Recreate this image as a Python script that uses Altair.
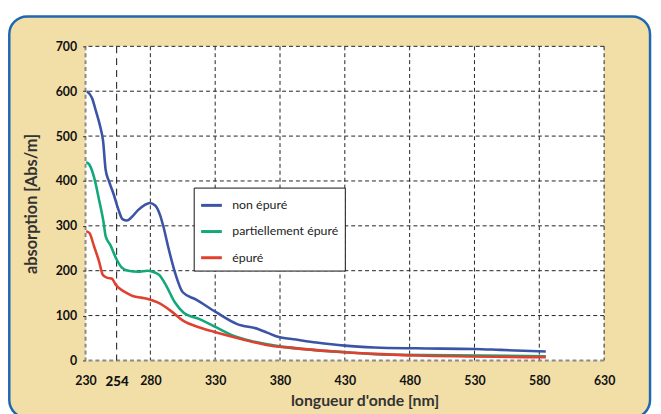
import altair as alt
import pandas as pd

# ---- data ----
series_names = ["non épuré", "partiellement épuré", "épuré"]
series_colors = ["#3B54A5", "#12A87A", "#E0402F"]

blue_x = [231, 235, 238, 241.5, 243.5, 245.5, 248, 251.5, 255.5, 258.5, 262, 265.5, 270.5, 275.5, 279.5,
          283.5, 287.5, 290, 294, 299, 305, 315, 331, 347, 363, 370, 379, 389, 408, 430, 453, 485, 530, 550, 585]
blue_y = [600, 585, 556, 519, 490, 425, 400, 372, 335, 315, 312, 319, 335, 346, 351,
          346, 324, 299, 250, 196, 152, 136, 107, 81, 70, 62, 52, 48, 40, 33, 29, 27, 25.5, 23.5, 20]

green_x = [230.5, 233, 236.5, 240.5, 244, 245.5, 249, 254, 258, 263, 270.5, 278, 283.5, 287, 292.5,
           299, 305.5, 318, 331, 344, 357, 376, 405, 437, 469, 585]
green_y = [442, 436, 409, 357, 306, 277, 258, 225, 207, 200, 197.5, 200, 196, 190, 165,
           129, 107, 92, 73.5, 55, 44, 33, 23.5, 17, 12.5, 9.5]

red_x = [230.5, 233, 236.5, 240.3, 243.5, 247, 250.5, 253, 257.3, 262, 267, 273, 279.5, 286, 296,
         305.5, 318, 331, 350, 369.5, 389, 421, 453, 485, 585]
red_y = [288, 284, 255, 222, 190, 184, 182, 170, 158, 150, 143, 140, 136, 128.7, 110,
         88, 73.5, 62.5, 48, 34.6, 28, 20, 14.7, 11, 7.4]

x_ticks = [230, 254, 280, 330, 380, 430, 480, 530, 580, 630]
x_grid = [280, 330, 380, 430, 480, 530, 580, 630]
y_ticks = [0, 100, 200, 300, 400, 500, 600, 700]
y_grid = [100, 200, 300, 400, 500, 600, 700]
x_domain = [230, 630]
y_domain = [0, 700]
marker_x = [254]

FONT = "Lato"
BEIGE = "#F2DFA7"
BORDER = "#1F67B1"

rows = []
for name, xs_, ys_ in zip(series_names, [blue_x, green_x, red_x], [blue_y, green_y, red_y]):
    for i, (a, b) in enumerate(zip(xs_, ys_)):
        rows.append({"serie": name, "nm": a, "abs": b, "order": i})
df = pd.DataFrame(rows)

xs = alt.Scale(domain=x_domain, nice=False, zero=False)
ys = alt.Scale(domain=y_domain, nice=False, zero=False)

W, H = 525, 318

one = pd.DataFrame({"k": [0]})
panel = alt.Chart(one).mark_rect(
    fill=BEIGE, stroke=BORDER, strokeWidth=2.5, cornerRadius=18
).encode(
    x=alt.value(-77.2), x2=alt.value(571.5), y=alt.value(-30.3), y2=alt.value(376)
)

box = pd.DataFrame({"x0": [x_domain[0]], "x1": [x_domain[1]], "y0": [y_domain[0]], "y1": [y_domain[1]]})
plot_bg = alt.Chart(box).mark_rect(fill="white").encode(
    x=alt.X("x0:Q", scale=xs), x2="x1:Q", y=alt.Y("y0:Q", scale=ys), y2="y1:Q"
)

vgrid = alt.Chart(pd.DataFrame({"v": x_grid})).mark_rule(
    color="#222", strokeWidth=1, strokeDash=[4, 3]
).encode(x=alt.X("v:Q", scale=xs))

hgrid = alt.Chart(pd.DataFrame({"v": y_grid})).mark_rule(
    color="#222", strokeWidth=1, strokeDash=[4, 3]
).encode(y=alt.Y("v:Q", scale=ys))

left_edge = alt.Chart(pd.DataFrame({"v": [x_domain[0]]})).mark_rule(
    color="#8a8a8a", strokeWidth=2, strokeDash=[4, 3]
).encode(x=alt.X("v:Q", scale=xs))

bottom_edge = alt.Chart(pd.DataFrame({"v": [y_domain[0]]})).mark_rule(
    color="#8a8a8a", strokeWidth=2, strokeDash=[4, 3]
).encode(y=alt.Y("v:Q", scale=ys))

marker = alt.Chart(pd.DataFrame({"v": marker_x})).mark_rule(
    color="#111", strokeWidth=1, strokeDash=[7, 5]
).encode(x=alt.X("v:Q", scale=xs))

lines = alt.Chart(df).mark_line(strokeWidth=2.6, interpolate="monotone").encode(
    x=alt.X("nm:Q", scale=xs,
            axis=alt.Axis(values=x_ticks, title="longueur d'onde [nm]", grid=False, domain=False,
                          ticks=False, labelPadding=14, titlePadding=5, titleX=282.5, zindex=2,
                          labelFlush=False, labelOverlap=False,
                          labelFont=FONT, titleFont=FONT, labelColor="#111", titleColor="#333",
                          titleFontSize=16, titleFontWeight="bold",
                          labelFontWeight=alt.condition("datum.value == 254", alt.value(900), alt.value("bold")),
                          labelFontSize=alt.condition("datum.value == 254", alt.value(13.5), alt.value(12.5)))),
    y=alt.Y("abs:Q", scale=ys,
            axis=alt.Axis(values=y_ticks, title="absorption [Abs/m]", grid=False, domain=False,
                          ticks=True, tickSize=3, tickColor="#333", labelPadding=6, titlePadding=16,
                          labelFlush=False,
                          zindex=2, labelFont=FONT, titleFont=FONT, labelColor="#111", titleColor="#333",
                          titleFontSize=16.5, titleFontWeight="bold", labelFontWeight="bold",
                          labelFontSize=12.5)),
    color=alt.Color("serie:N", scale=alt.Scale(domain=series_names, range=series_colors),
                    sort=series_names,
                    legend=alt.Legend(title=None, orient="none", legendX=109.5, legendY=143,
                                      fillColor="white", strokeColor="#111", padding=6,
                                      symbolType="stroke", symbolSize=441, symbolStrokeWidth=3,
                                      rowPadding=7.5, labelOffset=9, labelFontSize=12.5,
                                      labelColor="#222", labelFont=FONT)),
    order="order:Q",
)

chart = alt.layer(panel, plot_bg, vgrid, hgrid, left_edge, bottom_edge, marker, lines).properties(
    width=W, height=H,
    autosize=alt.AutoSizeParams(type="none"),
    padding={"left": 78.5, "top": 36.3, "right": 49.5, "bottom": 52},
    background="white",
).configure_view(stroke=None)

chart.save("out.html", embed_options={"renderer": "svg", "actions": False})
